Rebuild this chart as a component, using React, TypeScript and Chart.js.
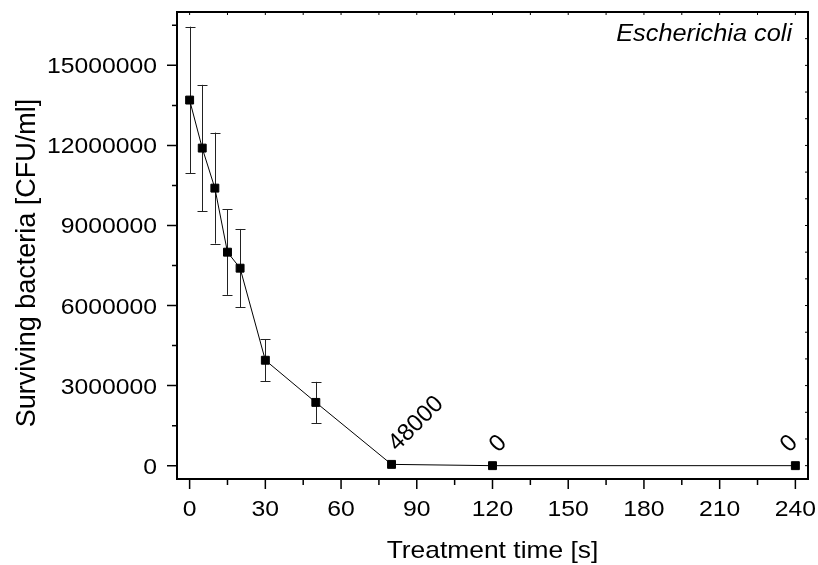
import React, { useEffect, useRef } from "react";
import { Chart, registerables } from "chart.js";

Chart.register(...registerables);

// ---- data ----
const TIMES = [0, 5, 10, 15, 20, 30, 50, 80, 120, 240];
const BACTERIA = [13700000, 11900000, 10400000, 8000000, 7400000, 3950000, 2370000, 48000, 0, 0];
const ERRORS = [2750000, 2370000, 2080000, 1600000, 1470000, 790000, 770000, 0, 0, 0];
const POINT_LABELS = ["", "", "", "", "", "", "", "48000", "0", "0"];

const X_TICKS = [0, 30, 60, 90, 120, 150, 180, 210, 240];
const X_MINOR = [15, 45, 75, 105, 135, 165, 195, 225];
const Y_TICKS = [0, 3000000, 6000000, 9000000, 12000000, 15000000];
const Y_MINOR = [1500000, 4500000, 7500000, 10500000, 13500000, 16500000];
const Y_RIGHT_TICKS = [0, 1000000, 2000000, 3000000, 4000000, 5000000, 6000000, 7000000, 8000000, 9000000, 10000000, 11000000, 12000000, 13000000, 14000000, 15000000, 16000000];
const X_TOP_TICKS = [0, 15, 30, 45, 60, 75, 90, 105, 120, 135, 150, 165, 180, 195, 210, 225, 240];

const X_TITLE = "Treatment time [s]";
const Y_TITLE = "Surviving bacteria [CFU/ml]";
const SPECIES = "Escherichia coli";

const FONT = "'Liberation Sans', Arial, Helvetica, sans-serif";
const STRETCH = 1.1;

function stretchedText(ctx: any, text: string, x: number, y: number, align: "left" | "right" | "center", sx: number) {
  ctx.save();
  ctx.translate(x, y);
  ctx.scale(sx, 1);
  ctx.textAlign = align;
  ctx.fillText(text, 0, 0);
  ctx.restore();
}

const decorPlugin = {
  id: "decor",
  beforeDatasetsDraw(chart: any) {
    const { ctx } = chart;
    const xs = chart.scales.x;
    const ys = chart.scales.y;
    ctx.save();
    ctx.strokeStyle = "#222";
    ctx.lineWidth = 1;
    const cap = 5;
    TIMES.forEach((t, i) => {
      const e = ERRORS[i];
      if (!e) return;
      const px = Math.round(xs.getPixelForValue(t)) + 0.5;
      const top = ys.getPixelForValue(BACTERIA[i] + e);
      const bot = ys.getPixelForValue(BACTERIA[i] - e);
      ctx.beginPath();
      ctx.moveTo(px, top);
      ctx.lineTo(px, bot);
      ctx.moveTo(px - cap, Math.round(top) + 0.5);
      ctx.lineTo(px + cap, Math.round(top) + 0.5);
      ctx.moveTo(px - cap, Math.round(bot) + 0.5);
      ctx.lineTo(px + cap, Math.round(bot) + 0.5);
      ctx.stroke();
    });
    ctx.restore();
  },
  afterDatasetsDraw(chart: any) {
    const { ctx, chartArea } = chart;
    const xs = chart.scales.x;
    const ys = chart.scales.y;
    const { left, right, top, bottom } = chartArea;
    ctx.save();
    // frame
    ctx.strokeStyle = "#000";
    ctx.lineWidth = 2;
    ctx.strokeRect(left, top, right - left, bottom - top);

    ctx.lineWidth = 1.5;
    ctx.beginPath();
    // left axis ticks (outward)
    Y_TICKS.forEach((v) => {
      const y = ys.getPixelForValue(v);
      ctx.moveTo(left - 10, y);
      ctx.lineTo(left, y);
    });
    Y_MINOR.forEach((v) => {
      const y = ys.getPixelForValue(v);
      ctx.moveTo(left - 5, y);
      ctx.lineTo(left, y);
    });
    // bottom axis ticks (outward)
    X_TICKS.forEach((v) => {
      const x = xs.getPixelForValue(v);
      ctx.moveTo(x, bottom);
      ctx.lineTo(x, bottom + 10);
    });
    X_MINOR.forEach((v) => {
      const x = xs.getPixelForValue(v);
      ctx.moveTo(x, bottom);
      ctx.lineTo(x, bottom + 6);
    });
    ctx.stroke();

    ctx.lineWidth = 1;
    ctx.beginPath();
    // right axis tiny inward ticks
    Y_RIGHT_TICKS.forEach((v) => {
      const y = ys.getPixelForValue(v);
      ctx.moveTo(right - 3, y);
      ctx.lineTo(right, y);
    });
    // top axis tiny inward ticks
    X_TOP_TICKS.forEach((v) => {
      const x = xs.getPixelForValue(v);
      ctx.moveTo(x, top);
      ctx.lineTo(x, top + 3);
    });
    ctx.stroke();

    ctx.fillStyle = "#000";

    // tick labels
    ctx.font = `22.5px ${FONT}`;
    ctx.textBaseline = "alphabetic";
    Y_TICKS.forEach((v) => {
      const y = ys.getPixelForValue(v);
      stretchedText(ctx, String(v), left - 20, y + 8, "right", STRETCH);
    });
    X_TICKS.forEach((v) => {
      const x = xs.getPixelForValue(v);
      stretchedText(ctx, String(v), x, bottom + 37, "center", STRETCH);
    });

    // point labels (rotated)
    ctx.font = `24px ${FONT}`;
    ctx.textAlign = "left";
    ctx.textBaseline = "middle";
    TIMES.forEach((t, i) => {
      const lbl = POINT_LABELS[i];
      if (!lbl) return;
      const px = xs.getPixelForValue(t);
      const py = ys.getPixelForValue(BACTERIA[i]);
      const w = ctx.measureText(lbl).width;
      const diag = w * Math.SQRT1_2;
      let sx = px + 1;
      const maxX = right - 14 - diag;
      if (sx > maxX) sx = maxX;
      const sy = py - 17;
      ctx.save();
      ctx.translate(sx, sy);
      ctx.rotate(-Math.PI / 4);
      ctx.fillText(lbl, 0, 0);
      ctx.restore();
    });

    // species name
    ctx.font = `italic 23px ${FONT}`;
    ctx.textBaseline = "alphabetic";
    stretchedText(ctx, SPECIES, right - 16, top + 29, "right", STRETCH);

    // x title
    ctx.font = `24px ${FONT}`;
    stretchedText(ctx, X_TITLE, (left + right) / 2, 558, "center", STRETCH);

    // y title
    ctx.font = `27px ${FONT}`;
    ctx.save();
    ctx.translate(35, 263);
    ctx.rotate(-Math.PI / 2);
    ctx.textAlign = "center";
    ctx.fillText(Y_TITLE, 0, 0);
    ctx.restore();

    ctx.restore();
  },
};

export default function App() {
  const canvasRef = useRef<HTMLCanvasElement | null>(null);

  useEffect(() => {
    const canvas = canvasRef.current;
    if (!canvas) return;
    const zeroPad = (s: any) => {
      s.paddingLeft = 0;
      s.paddingRight = 0;
      s.paddingTop = 0;
      s.paddingBottom = 0;
    };
    const chart = new Chart(canvas, {
      type: "line",
      data: {
        datasets: [
          {
            data: TIMES.map((t, i) => ({ x: t, y: BACTERIA[i] })),
            borderColor: "#000",
            borderWidth: 1,
            pointStyle: "rect",
            pointRadius: 5.6,
            pointBackgroundColor: "#000",
            pointBorderColor: "#000",
            pointBorderWidth: 1,
            tension: 0,
            fill: false,
          },
        ],
      },
      options: {
        animation: false,
        responsive: false,
        devicePixelRatio: 1,
        layout: { padding: { left: 0, top: 12, right: 10, bottom: 0 } },
        plugins: {
          legend: { display: false },
          tooltip: { enabled: false },
          title: { display: false },
        },
        scales: {
          x: {
            type: "linear",
            min: -5,
            max: 245,
            grid: { display: false, drawTicks: false },
            border: { display: false },
            afterBuildTicks: (s: any) => {
              s.ticks = X_TICKS.map((v) => ({ value: v }));
            },
            afterFit: (s: any) => {
              s.height = 86;
              zeroPad(s);
            },
            ticks: { display: false },
          },
          y: {
            type: "linear",
            min: -500000,
            max: 17000000,
            grid: { display: false, drawTicks: false },
            border: { display: false },
            afterBuildTicks: (s: any) => {
              s.ticks = Y_TICKS.map((v) => ({ value: v }));
            },
            afterFit: (s: any) => {
              s.width = 177;
              zeroPad(s);
            },
            ticks: { display: false },
          },
        },
      },
      plugins: [decorPlugin],
    });
    return () => chart.destroy();
  }, []);

  return (
    <div style={{ position: "fixed", left: 0, top: 0, width: 818, height: 565, background: "#fff" }}>
      <canvas ref={canvasRef} width={818} height={565} style={{ display: "block", width: 818, height: 565 }} />
    </div>
  );
}
